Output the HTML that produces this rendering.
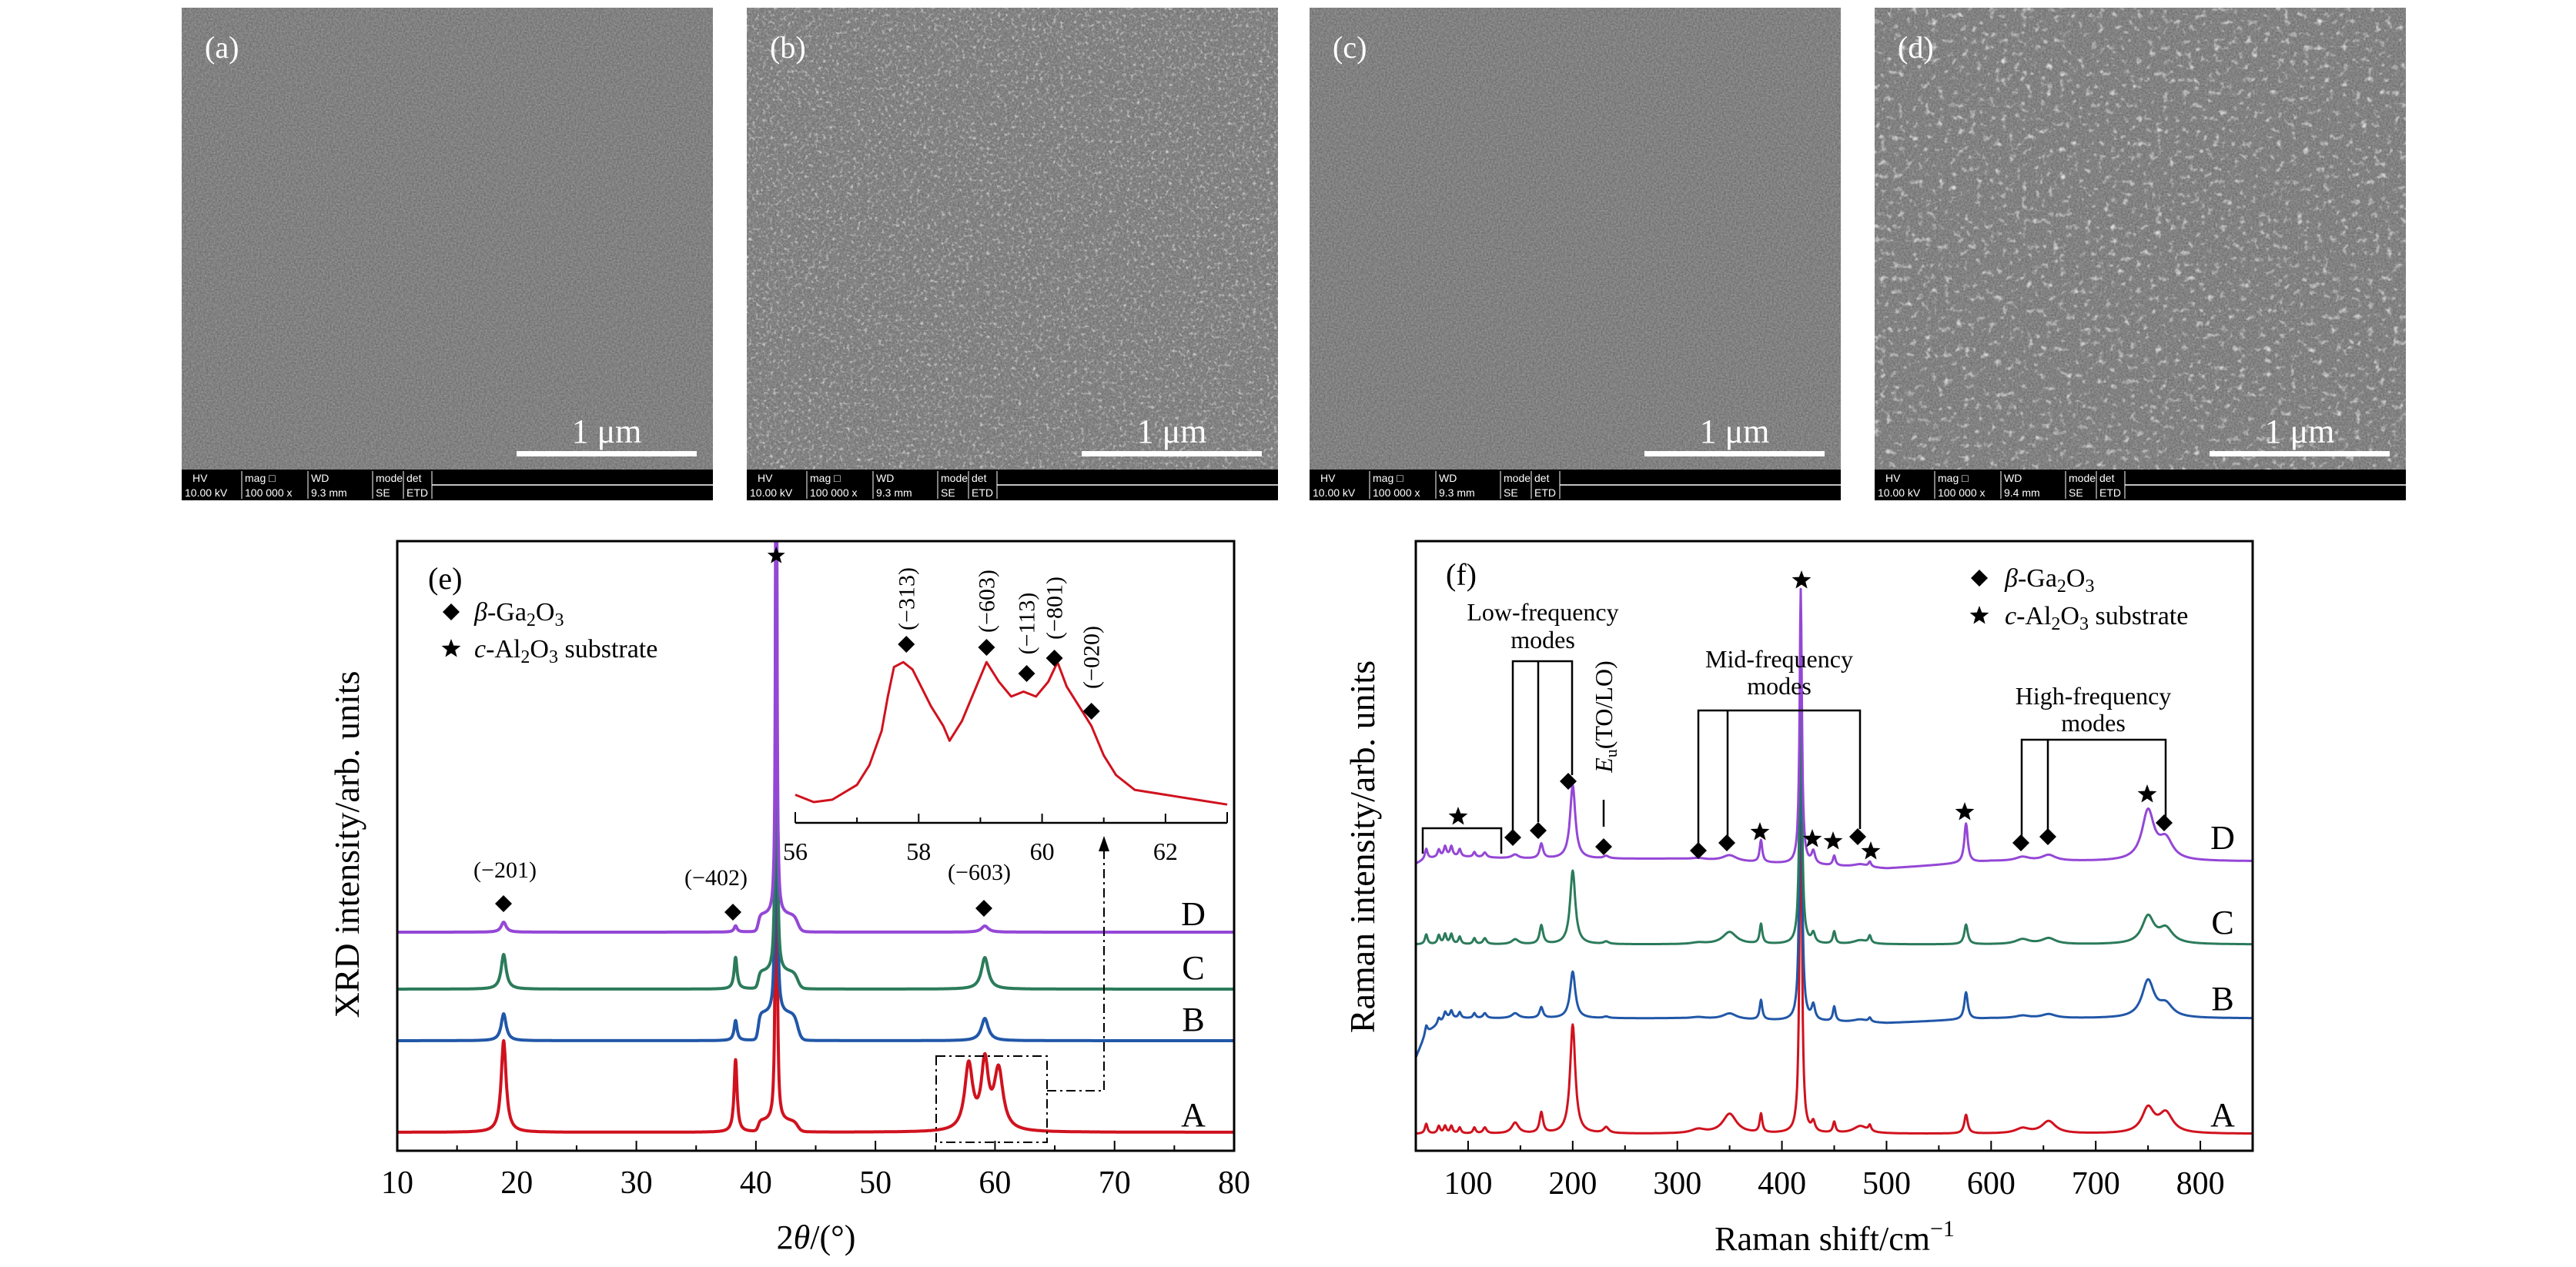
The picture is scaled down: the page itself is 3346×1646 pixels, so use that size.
<!DOCTYPE html>
<html><head><meta charset="utf-8">
<style>
html,body{margin:0;padding:0;background:#fff;}
svg{display:block;font-family:"Liberation Serif",serif;}
</style></head>
<body>
<svg id="fig" width="3346" height="1646" viewBox="0 0 3346 1646" xmlns="http://www.w3.org/2000/svg">
<defs>
<filter id="semFine" x="0" y="0" width="100%" height="100%">
 <feTurbulence type="fractalNoise" baseFrequency="0.45" numOctaves="2" seed="3"/>
 <feColorMatrix type="matrix" values="0 0 0 0 0.43  0 0 0 0 0.43  0 0 0 0 0.43  0.9 0 0 0 -0.1"/>
</filter>
<filter id="semGrain" x="0" y="0" width="100%" height="100%">
 <feTurbulence type="fractalNoise" baseFrequency="0.22" numOctaves="2" seed="7"/>
 <feColorMatrix type="matrix" values="0 0 0 0 0.72  0 0 0 0 0.72  0 0 0 0 0.72  2.6 0 0 0 -1.45"/>
</filter>
<filter id="semGrainBig" x="0" y="0" width="100%" height="100%">
 <feTurbulence type="fractalNoise" baseFrequency="0.12" numOctaves="2" seed="11"/>
 <feColorMatrix type="matrix" values="0 0 0 0 0.76  0 0 0 0 0.76  0 0 0 0 0.76  3.0 0 0 0 -1.75"/>
</filter>
<clipPath id="clipE"><rect x="516" y="703" width="1087" height="792"/></clipPath>
<clipPath id="clipF"><rect x="1839" y="703" width="1087" height="792"/></clipPath>
</defs>
<g id="sem"></g>
<g id="xrd"></g>
<g id="raman"></g>
</svg>
<script>
// ---------------- XRD data ----------------
const xrdCenters=[18.9,38.3,41.7,57.8,59.15,60.3];
const xrdWidths=[0.25,0.15,0.06,0.4,0.35,0.45];
const xrdA=[119,94,900,85,85,78];
const xrdB=[35,26,900,0,29,0];
const xrdC=[45,41,900,0,41,0];
const xrdD=[13,8,900,0,8,0];
const xrdShoulder=[14,35,22,22]; // A,B,C,D plateau 40.2-43.5
const xrdBase=[1471,1352,1285,1211];
const xrdTicks=[10,20,30,40,50,60,70,80];
const insetX=[56.0,56.3,56.6,57.0,57.2,57.4,57.5,57.6,57.75,57.9,58.0,58.2,58.4,58.5,58.7,58.9,59.1,59.3,59.5,59.7,59.9,60.1,60.25,60.4,60.6,60.8,61.0,61.2,61.5,62.0,62.5,63.0];
const insetY=[40,25,30,60,100,170,240,300,310,295,270,220,180,150,190,250,310,270,240,250,240,270,310,260,220,180,120,80,50,40,30,20];
const insetTicks=[56,58,60,62];
// ---------------- Raman data ----------------
const ramCenters=[60,72,78,84,92,106,116,145,170,200,232,320,350,380,418,430,450,475,484,576,630,655,750,767];
const ramWidths=[1.5,1.5,1.5,1.5,1.5,1.5,2,4,2,3,3,8,8,1.5,1.3,2,1.5,8,1.5,2,8,8,7,8];
const ramD=[20,15,20,20,15,10,10,8,30,150,5,3,12,45,560,25,20,6,10,80,8,12,100,40];
const ramC=[20,18,20,20,15,12,12,10,38,150,5,3,25,40,600,20,25,8,15,40,10,12,55,30];
const ramB=[15,12,15,15,12,10,10,10,22,95,3,3,12,40,700,30,30,6,8,55,5,8,75,25];
const ramA=[20,15,15,15,12,12,12,22,42,222,12,8,40,38,780,20,22,15,12,38,10,25,50,40];
const ramBaseX=[50,60,80,150,300,500,600,850];
const ramBaseD=[-5,5,10,5,5,-15,0,0];
const ramBaseC=[0,0,0,0,0,0,0,0];
const ramBaseB=[-80,-30,0,0,0,-10,0,0];
const ramBaseA=[0,0,0,0,0,0,0,0];
const ramBase=[1473,1323,1227,1119];
const ramTicks=[100,200,300,400,500,600,700,800];

const NS='http://www.w3.org/2000/svg';
function mk(tag,attrs,parent){const e=document.createElementNS(NS,tag);for(const k in attrs)e.setAttribute(k,attrs[k]);if(parent)parent.appendChild(e);return e;}
function txt(parent,x,y,s,size,anchor,extra){const t=mk('text',Object.assign({x:x,y:y,'font-size':size,'text-anchor':anchor||'start',fill:'#000'},extra||{}),parent);t.innerHTML=s;return t;}

// ---------------- SEM panels ----------------
const sem=document.getElementById('sem');
const semX=[236,970,1701,2435];
const semLabels=['(a)','(b)','(c)','(d)'];
const semWD=['9.3','9.3','9.3','9.4'];
for(let i=0;i<4;i++){
 const g=mk('g',{},sem);
 
 
 const x=semX[i],w=690;
 mk('rect',{x:x,y:10,width:w,height:600,fill:'#686868'},g);
 mk('rect',{x:x,y:10,width:w,height:600,filter:'url(#semFine)'},g);
 if(i==1||i==3) mk('rect',{x:x,y:10,width:w,height:600,filter:i==3?'url(#semGrainBig)':'url(#semGrain)'},g);
 const lab=txt(g,x+30,75,semLabels[i],40,'start',{fill:'#fff'});
 
 
 const sc=mk('rect',{x:x+435,y:586,width:234,height:7,fill:'#fff'},g);
 
 
 const st=txt(g,x+552,575,'1 μm',44,'middle',{fill:'#fff'});
 
 
 const bar=mk('g',{},g);
 
 
 mk('rect',{x:x,y:610,width:w,height:40,fill:'#000'},bar);
 mk('line',{x1:x+325,y1:630,x2:x+w,y2:630,stroke:'#fff','stroke-width':1.5},bar);
 const hdr=['HV','mag □','WD','mode','det'];
 const val=['10.00 kV','100 000 x',semWD[i]+' mm','SE','ETD'];
 const cx=[x+4,x+82,x+168,x+252,x+292];
 for(let k=0;k<5;k++){
  txt(bar,cx[k]+ (k==0?10:0),626,hdr[k],14,'start',{fill:'#fff','font-family':'Liberation Sans'});
  txt(bar,cx[k],645,val[k],14,'start',{fill:'#fff','font-family':'Liberation Sans'});
  if(k>0) mk('line',{x1:cx[k]-4,y1:612,x2:cx[k]-4,y2:648,stroke:'#fff','stroke-width':1},bar);
 }
 mk('line',{x1:x+325,y1:612,x2:x+325,y2:648,stroke:'#fff','stroke-width':1},bar);
}

// ---------------- XRD ----------------
const xrd=document.getElementById('xrd');
const XL=516,XR=1603,YT=703,YB=1495;
function xX(v){return XL+(v-10)*(XR-XL)/70;}
function lor(x,c,w){return 1/(1+((x-c)/w)*((x-c)/w));}
function sig(z){return 1/(1+Math.exp(-z));}
const xrdSeries=[xrdA,xrdB,xrdC,xrdD];
const xrdColors=['#d0121e','#2157a8','#2b7b5b','#9447d6'];
const xrdNames=['A','B','C','D'];
const cg=mk('g',{'clip-path':'url(#clipE)'},xrd);
for(let s=0;s<4;s++){
 let d='';
 for(let x=10;x<=80.0001;x+=0.02){
  let v=0;
  for(let k=0;k<xrdCenters.length;k++) v+=xrdSeries[s][k]*lor(x,xrdCenters[k],xrdWidths[k]);
  v+=xrdShoulder[s]*sig((x-40.2)/0.08)*sig((43.5-x)/0.15);
  d+=(d?'L':'M')+xX(x).toFixed(1)+' '+(xrdBase[s]-v).toFixed(1);
 }
 const p=mk('path',{d:d,fill:'none',stroke:xrdColors[s],'stroke-width':4,'stroke-linejoin':'round'},cg);
 
 
}
const fe=mk('rect',{x:XL,y:YT,width:XR-XL,height:YB-YT,fill:'none',stroke:'#000','stroke-width':3},xrd);


const xaxE=mk('g',{},xrd);


for(let v=15;v<80;v+=10) mk('line',{x1:xX(v),y1:YB,x2:xX(v),y2:YB-7,stroke:'#000','stroke-width':2},xaxE);
xrdTicks.forEach(v=>{
 if(v>10&&v<80) mk('line',{x1:xX(v),y1:YB,x2:xX(v),y2:YB-13,stroke:'#000','stroke-width':2},xaxE);
 txt(xaxE,xX(v),1550,String(v),42,'middle');
});
const xtE=txt(xrd,1060,1622,'2<tspan font-style="italic">θ</tspan>/(°)',44,'middle');


const ytE=txt(xrd,0,0,'XRD intensity/arb. units',46,'middle',{transform:'translate(466,1097) rotate(-90)'});


const tagE=txt(xrd,556,765,'(e)',40,'start');


function diamond(g,x,y,r){return mk('path',{d:`M${x} ${y-r}L${x+r} ${y}L${x} ${y+r}L${x-r} ${y}Z`,fill:'#000'},g);}
function star(g,x,y,r){let d='';for(let i=0;i<10;i++){const a=-Math.PI/2+i*Math.PI/5;const rr=i%2?r*0.42:r;d+=(i?'L':'M')+(x+rr*Math.cos(a)).toFixed(1)+' '+(y+rr*Math.sin(a)).toFixed(1);}return mk('path',{d:d+'Z',fill:'#000'},g);}
const legE=mk('g',{},xrd);


diamond(legE,586,795,11);star(legE,586,843,13);
txt(legE,616,806,'<tspan font-style="italic">β</tspan>-Ga<tspan font-size="24" dy="7">2</tspan><tspan dy="-7">O</tspan><tspan font-size="24" dy="7">3</tspan>',34);
txt(legE,616,854,'<tspan font-style="italic">c</tspan>-Al<tspan font-size="24" dy="7">2</tspan><tspan dy="-7">O</tspan><tspan font-size="24" dy="7">3</tspan><tspan dy="-7"> substrate</tspan>',34);
const annE=mk('g',{},xrd);


[[656,1140,654,1174,'(−201)'],[930,1150,952,1185,'(−402)'],[1272,1143,1278,1180,'(−603)']].forEach(a=>{txt(annE,a[0],a[1],a[4],30,'middle');diamond(annE,a[2],a[3],11);});
star(annE,xX(41.7),722,12);
// inset
const IXL=1033,IXR=1594,IY=1069;
function iX(v){return IXL+(v-56)*(IXR-IXL)/7;}
function iY(v){return 1058-v*0.638;}
const ins=mk('g',{},xrd);


let di='';insetX.forEach((x,i)=>{di+=(i?'L':'M')+iX(x).toFixed(1)+' '+iY(insetY[i]).toFixed(1);});
const ip=mk('path',{d:di,fill:'none',stroke:'#d0121e','stroke-width':3,'stroke-linejoin':'round'},ins);


mk('line',{x1:IXL,y1:IY,x2:IXR,y2:IY,stroke:'#000','stroke-width':2.5},ins);
mk('line',{x1:IXL,y1:IY,x2:IXL,y2:IY-14,stroke:'#000','stroke-width':2},ins);
mk('line',{x1:IXR,y1:IY,x2:IXR,y2:IY-14,stroke:'#000','stroke-width':2},ins);
for(let v=57;v<63;v++) mk('line',{x1:iX(v),y1:IY,x2:iX(v),y2:IY-(v%2==0?12:7),stroke:'#000','stroke-width':2},ins);
insetTicks.forEach(v=>txt(ins,iX(v),1117,String(v),32,'middle'));
[[57.8,778,837,'(−313)'],[59.1,781,841,'(−603)'],[59.75,810,875,'(−113)'],[60.2,790,855,'(−801)'],[60.8,854,924,'(−020)']].forEach(a=>{
 const x=iX(a[0]);
 txt(ins,0,0,a[3],30,'middle',{transform:`translate(${x+10},${a[1]}) rotate(-90)`});
 diamond(ins,x,a[2],11);
});
const box=mk('g',{},xrd);


mk('rect',{x:1216,y:1372,width:144,height:112,fill:'none',stroke:'#000','stroke-width':2,'stroke-dasharray':'12 5 3 5'},box);
mk('path',{d:'M1360 1417 L1434 1417 L1434 1102',fill:'none',stroke:'#000','stroke-width':2,'stroke-dasharray':'12 5 3 5'},box);
mk('path',{d:'M1434 1086 L1427 1106 L1441 1106 Z',fill:'#000'},box);
const labYE=[1447,1323,1256,1186];
for(let s=0;s<4;s++){const t=txt(xrd,1550,labYE[s]+16,xrdNames[s],44,'middle');}

// ---------------- Raman ----------------
const ram=document.getElementById('raman');
const RL=1839,RR=2926;
function rX(v){return RL+(v-50)*(RR-RL)/800;}
function interp(xs,ys,x){for(let i=0;i<xs.length-1;i++){if(x<=xs[i+1]){const t=(x-xs[i])/(xs[i+1]-xs[i]);return ys[i]+t*(ys[i+1]-ys[i]);}}return ys[ys.length-1];}
const ramSeries=[ramA,ramB,ramC,ramD];
const ramBaseOff=[ramBaseA,ramBaseB,ramBaseC,ramBaseD];
const cgr=mk('g',{'clip-path':'url(#clipF)'},ram);
for(let s=0;s<4;s++){
 let d='';
 for(let x=50;x<=850.001;x+=0.5){
  let v=interp(ramBaseX,ramBaseOff[s],x);
  for(let k=0;k<ramCenters.length;k++) v+=ramSeries[s][k]*lor(x,ramCenters[k],ramWidths[k]);
  d+=(d?'L':'M')+rX(x).toFixed(1)+' '+(ramBase[s]-v*0.638).toFixed(1);
 }
 const p=mk('path',{d:d,fill:'none',stroke:xrdColors[s],'stroke-width':3,'stroke-linejoin':'round'},cgr);
 
 
}
const ff=mk('rect',{x:RL,y:YT,width:RR-RL,height:YB-YT,fill:'none',stroke:'#000','stroke-width':3},ram);


const xaxF=mk('g',{},ram);


for(let v=150;v<850;v+=100) mk('line',{x1:rX(v),y1:YB,x2:rX(v),y2:YB-7,stroke:'#000','stroke-width':2},xaxF);
ramTicks.forEach(v=>{mk('line',{x1:rX(v),y1:YB,x2:rX(v),y2:YB-13,stroke:'#000','stroke-width':2},xaxF);txt(xaxF,rX(v),1551,String(v),42,'middle');});
const xtF=txt(ram,2383,1624,'Raman shift/cm<tspan font-size="30" dy="-18">−1</tspan>',44,'middle');


const ytF=txt(ram,0,0,'Raman intensity/arb. units',46,'middle',{transform:'translate(1785,1100) rotate(-90)'});


const tagF=txt(ram,1878,760,'(f)',40,'start');


const legF=mk('g',{},ram);


diamond(legF,2571,751,11);star(legF,2571,800,13);
txt(legF,2604,762,'<tspan font-style="italic">β</tspan>-Ga<tspan font-size="24" dy="7">2</tspan><tspan dy="-7">O</tspan><tspan font-size="24" dy="7">3</tspan>',34);
txt(legF,2604,811,'<tspan font-style="italic">c</tspan>-Al<tspan font-size="24" dy="7">2</tspan><tspan dy="-7">O</tspan><tspan font-size="24" dy="7">3</tspan><tspan dy="-7"> substrate</tspan>',34);
const annF=mk('g',{},ram);


const L=(a)=>mk('path',{d:a,fill:'none',stroke:'#000','stroke-width':2.5},annF);
txt(annF,2004,806,'Low-frequency',32,'middle');txt(annF,2004,842,'modes',32,'middle');
L('M1965 1079 L1965 859 L2042 859 L2042 1007 M1998 859 L1998 1068');
txt(annF,2311,867,'Mid-frequency',32,'middle');txt(annF,2311,902,'modes',32,'middle');
L('M2206 1097 L2206 923 L2416 923 L2416 1077 M2244 923 L2244 1087');
txt(annF,2719,915,'High-frequency',32,'middle');txt(annF,2719,950,'modes',32,'middle');
L('M2626 1090 L2626 961 L2813 961 L2813 1065 M2660 961 L2660 1080');
L('M1848 1109 L1848 1076 L1950 1076 L1950 1109');
L('M2083 1039 L2083 1074');
txt(annF,0,0,'<tspan font-style="italic">E</tspan><tspan font-size="22" dy="6">u</tspan><tspan dy="-6">(TO/LO)</tspan>',32,'middle',{transform:'translate(2094,931) rotate(-90)'});
[[1965,1088],[1998,1079],[2037,1015],[2083,1100],[2206,1105],[2243,1095],[2413,1087],[2625,1095],[2660,1087],[2811,1069]].forEach(p=>diamond(annF,p[0],p[1],11));
[[1894,1061],[2286,1081],[2340,754],[2354,1090],[2381,1093],[2430,1106],[2552,1055],[2789,1032]].forEach(p=>star(annF,p[0],p[1],13));
const labYF=[1447,1296,1197,1087];
for(let s=0;s<4;s++){const t=txt(ram,2887,labYF[s]+16,xrdNames[s],44,'middle');}
</script>
</body></html>
